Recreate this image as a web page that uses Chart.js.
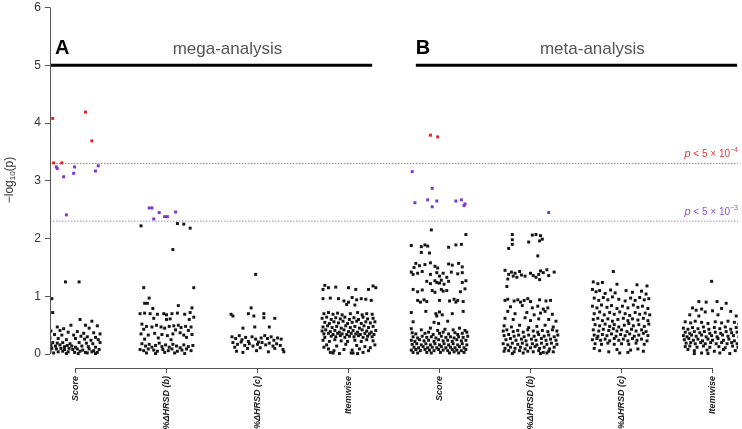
<!DOCTYPE html>
<html>
<head>
<meta charset="utf-8">
<script src="https://cdn.jsdelivr.net/npm/chart.js@4.4.1/dist/chart.umd.min.js"></script>
<style>
  body { margin: 0; background: #fff; }
  #wrap { width: 742px; height: 429px; }
</style>
</head>
<body>
<div id="wrap"><canvas id="graph" width="742" height="429"></canvas></div>
<script>
// categories along the x axis (1..8)
var categories = ['Score', '%ΔHRSD (b)', '%ΔHRSD (c)', 'Itemwise', 'Score', '%ΔHRSD (b)', '%ΔHRSD (c)', 'Itemwise'];
var yTicks = [0, 1, 2, 3, 4, 5, 6];
var thresholdRed = 3.301;    // p < 5e-4
var thresholdPurple = 2.301; // p < 5e-3

// points per category: [jitter offset, -log10(p)]
var megaScore = [
  [-0.25,4.08],[0.11,4.19],[0.18,3.69],[-0.24,3.31],[-0.15,3.31],[-0.21,3.24],[-0.2,3.21],[-0.13,3.07],
  [-0.02,3.13],[-0.01,3.24],[0.22,3.17],[0.25,3.26],[-0.1,2.41],
  [-0.11,1.25],[0.04,1.25],[-0.26,0.96],[-0.25,0.72],
  [0.05,0.6],[0.18,0.57],[-0.05,0.5],[0.11,0.5],[0.24,0.49],[-0.2,0.47],[-0.13,0.44],[0.15,0.45],
  [-0.27,0.4],[-0.17,0.41],[-0.08,0.38],[0.02,0.39],[0.09,0.36],[0.2,0.37],[0.27,0.35],
  [-0.23,0.34],[-0.15,0.33],[-0.02,0.33],[0.06,0.31],[0.13,0.3],[0.22,0.29],
  [-0.28,0.28],[-0.19,0.27],[-0.1,0.25],[0.0,0.27],[0.1,0.26],[0.17,0.24],[0.25,0.25],
  [-0.25,0.2],[-0.2,0.19],[-0.14,0.2],[-0.06,0.18],[0.04,0.2],[0.12,0.19],[0.19,0.18],[0.27,0.2],
  [-0.27,0.15],[-0.22,0.14],[-0.17,0.16],[-0.12,0.13],[-0.09,0.15],[-0.04,0.14],[0.0,0.12],[0.07,0.14],[0.14,0.13],[0.22,0.12],
  [-0.26,0.1],[-0.21,0.09],[-0.16,0.1],[-0.12,0.08],[-0.07,0.1],[-0.03,0.08],[0.02,0.09],[0.08,0.07],[0.15,0.09],[0.2,0.06],[0.26,0.08],
  [-0.28,0.05],[-0.19,0.04],[-0.14,0.05],[-0.08,0.04],[-0.01,0.03],[0.05,0.05],[0.11,0.03],[0.18,0.04],[0.24,0.03],
  [-0.24,0.02],[-0.1,0.01],[0.03,0.01],[0.13,0.02],[0.22,0.01]
];
var megaDeltaB = [
  [-0.19,2.53],[-0.16,2.53],[-0.14,2.34],[-0.08,2.45],[-0.02,2.38],[0.01,2.38],[0.1,2.46],
  [-0.28,2.22],[0.12,2.26],[0.19,2.25],[0.26,2.18],[0.07,1.81],[-0.25,1.15],[0.3,1.15],
  [-0.19,0.97],[-0.24,0.88],[-0.21,0.88],[0.13,0.84],[-0.15,0.79],[0.28,0.8],
  [-0.29,0.7],[-0.24,0.71],[-0.18,0.7],[-0.1,0.69],[-0.03,0.7],[0.0,0.68],[0.06,0.7],[0.12,0.71],[0.2,0.69],[0.26,0.72],
  [-0.14,0.62],[0.0,0.6],[0.04,0.61],[0.25,0.6],[0.3,0.64],
  [-0.27,0.52],[-0.22,0.48],[-0.16,0.47],[-0.11,0.5],[-0.06,0.47],[-0.02,0.45],[0.03,0.48],[0.08,0.49],[0.13,0.5],[0.16,0.46],[0.21,0.48],[0.27,0.47],
  [-0.25,0.43],[0.1,0.42],[0.24,0.41],
  [-0.28,0.35],[-0.2,0.33],[-0.13,0.36],[-0.05,0.34],[0.01,0.32],[0.07,0.35],[0.15,0.37],[0.19,0.33],[0.28,0.34],
  [-0.09,0.28],[0.22,0.29],[-0.24,0.26],[0.05,0.25],
  [-0.27,0.18],[-0.23,0.14],[-0.19,0.17],[-0.16,0.12],[-0.12,0.15],[-0.08,0.19],[-0.05,0.13],[-0.01,0.16],[0.03,0.12],[0.07,0.17],[0.11,0.14],[0.15,0.11],[0.19,0.16],[0.24,0.13],[0.29,0.15],
  [-0.29,0.08],[-0.25,0.06],[-0.2,0.09],[-0.14,0.07],[-0.1,0.05],[-0.04,0.08],[0.02,0.06],[0.06,0.09],[0.12,0.05],[0.17,0.07],[0.22,0.09],[0.27,0.06],
  [-0.22,0.02],[-0.12,0.01],[-0.02,0.03],[0.09,0.02],[0.2,0.01]
];
var megaDeltaC = [
  [-0.02,1.38],
  [-0.07,0.8],[-0.29,0.69],[-0.27,0.66],[-0.1,0.7],[-0.04,0.66],[0.07,0.7],[0.07,0.63],[0.19,0.62],[-0.16,0.45],[-0.03,0.47],[0.13,0.47],
  [-0.28,0.3],[-0.24,0.27],[-0.2,0.32],[-0.17,0.25],[-0.13,0.29],[-0.1,0.22],[-0.06,0.3],[-0.02,0.26],[0.01,0.21],[0.04,0.28],[0.08,0.32],[0.11,0.27],[0.15,0.3],[0.18,0.24],[0.22,0.28],[0.26,0.26],
  [-0.27,0.2],[-0.22,0.17],[-0.18,0.21],[-0.14,0.15],[-0.09,0.18],[-0.05,0.14],[0.0,0.17],[0.05,0.2],[0.09,0.16],[0.13,0.19],[0.17,0.14],[0.21,0.18],[0.25,0.15],
  [-0.25,0.12],[-0.11,0.1],[0.03,0.11],[0.19,0.1],[0.28,0.08],[0.29,0.04],
  [-0.23,0.05],[-0.16,0.03],[-0.01,0.06],[0.12,0.04]
];
var megaItemwise = [
  [-0.26,1.19],[-0.22,1.15],[-0.14,1.16],[0.0,1.15],[0.08,1.12],[0.22,1.12],[0.27,1.18],[0.3,1.15],[-0.28,1.12],
  [-0.28,0.96],[-0.2,0.97],[-0.11,0.96],[0.04,0.98],[0.09,0.94],[0.14,0.96],[0.19,0.95],[0.25,0.93],
  [-0.05,0.92],[0.0,0.9],[-0.02,0.86],[0.07,0.85],
  [-0.27,0.7],[-0.22,0.72],[-0.17,0.69],[-0.12,0.71],[-0.07,0.68],[0.02,0.7],[0.1,0.72],[0.15,0.68],[0.2,0.7],[0.26,0.69],
  [-0.29,0.62],[-0.24,0.64],[-0.19,0.6],[-0.14,0.63],[-0.09,0.61],[-0.04,0.64],[0.01,0.6],[0.06,0.63],[0.11,0.6],[0.16,0.64],[0.21,0.61],[0.27,0.62],
  [-0.26,0.55],[-0.21,0.53],[-0.16,0.56],[-0.11,0.54],[-0.06,0.57],[-0.01,0.53],[0.04,0.55],[0.09,0.57],[0.14,0.53],[0.19,0.56],[0.24,0.54],[0.29,0.56],
  [-0.28,0.47],[-0.23,0.49],[-0.18,0.46],[-0.13,0.48],[-0.08,0.45],[-0.03,0.49],[0.02,0.46],[0.07,0.48],[0.12,0.45],[0.17,0.49],[0.22,0.46],[0.27,0.48],
  [-0.29,0.4],[-0.25,0.42],[-0.2,0.39],[-0.15,0.41],[-0.1,0.38],[-0.05,0.42],[0.0,0.39],[0.05,0.41],[0.1,0.38],[0.15,0.42],[0.2,0.4],[0.25,0.38],[0.3,0.41],
  [-0.27,0.35],[-0.22,0.36],[-0.17,0.34],[-0.12,0.36],[-0.07,0.35],[-0.02,0.34],[0.03,0.36],[0.08,0.35],[0.13,0.34],[0.18,0.36],[0.23,0.35],[0.28,0.34],
  [-0.26,0.29],[-0.19,0.31],[-0.14,0.3],[-0.09,0.32],[-0.04,0.29],[0.01,0.31],[0.06,0.3],[0.11,0.32],[0.16,0.29],[0.21,0.31],[0.26,0.3],
  [-0.28,0.24],[-0.21,0.22],[-0.15,0.25],[-0.08,0.23],[-0.01,0.22],[0.07,0.24],[0.14,0.22],[0.2,0.25],[0.27,0.23],
  [-0.24,0.16],[-0.13,0.14],[-0.03,0.17],[0.09,0.15],[0.18,0.13],[0.29,0.16],[-0.27,0.12],[0.24,0.11],
  [-0.22,0.09],[-0.16,0.06],[-0.05,0.08],[0.04,0.07],[0.12,0.09],[0.22,0.06],
  [-0.2,0.03],[-0.17,0.02],[-0.1,0.01],[0.03,0.02],[0.05,0.02],[0.1,0.01],[0.16,0.03]
];
var metaScore = [
  [-0.1,3.79],[-0.02,3.76],[-0.3,3.16],[-0.08,2.87],[-0.27,2.62],[-0.13,2.67],[-0.03,2.65],[-0.08,2.55],
  [0.18,2.65],[0.24,2.67],[0.28,2.6],[0.27,2.57],
  [-0.09,2.15],[0.29,2.07],
  [-0.31,1.88],[-0.2,1.86],[-0.16,1.89],[-0.13,1.87],[0.1,1.85],[0.18,1.89],[0.24,1.9],[-0.2,1.76],[-0.11,1.75],
  [-0.26,1.57],[-0.22,1.53],[-0.16,1.55],[-0.1,1.58],[-0.05,1.52],[0.1,1.56],[0.14,1.54],[0.21,1.57],[0.25,1.51],[-0.28,1.5],[-0.02,1.49],
  [-0.31,1.42],[-0.29,1.38],[-0.24,1.4],[-0.19,1.43],[-0.1,1.38],[-0.03,1.41],[0.04,1.4],[0.13,1.42],[0.2,1.39],[0.25,1.41],[0.0,1.35],[0.08,1.33],
  [-0.14,1.26],[-0.1,1.22],[-0.05,1.27],[-0.03,1.24],[0.0,1.23],[0.02,1.28],[0.05,1.21],[0.1,1.26],[0.25,1.24],[0.29,1.27],
  [-0.29,1.12],[-0.24,1.08],[-0.19,1.11],[-0.08,1.1],[-0.05,1.07],[0.02,1.12],[0.04,1.09],[0.08,1.1],[0.23,1.08],[0.28,1.13],
  [-0.24,0.93],[-0.21,0.9],[-0.17,0.94],[-0.14,0.91],[0.0,0.93],[0.11,0.92],[0.16,0.95],[0.18,0.9],[0.2,0.93],[0.26,0.91],
  [-0.31,0.72],[-0.15,0.74],[-0.04,0.7],[-0.03,0.66],[0.0,0.73],[0.03,0.68],[0.14,0.7],[0.26,0.74],
  [-0.29,0.56],[-0.06,0.55],[-0.01,0.53],[0.09,0.57],
  [-0.31,0.44],[-0.2,0.42],[-0.1,0.45],[-0.02,0.41],[0.06,0.43],[0.15,0.42],[0.22,0.45],[0.28,0.41],
  [-0.3,0.37],[-0.26,0.35],[-0.16,0.36],[-0.12,0.38],[-0.07,0.34],[0.0,0.36],[0.04,0.38],[0.1,0.35],[0.17,0.37],[0.2,0.34],[0.25,0.36],[0.3,0.38],
  [-0.29,0.3],[-0.24,0.28],[-0.19,0.31],[-0.14,0.29],[-0.09,0.3],[-0.04,0.28],[0.02,0.31],[0.07,0.29],[0.12,0.3],[0.16,0.28],[0.21,0.3],[0.26,0.29],[0.31,0.31],
  [-0.31,0.24],[-0.27,0.22],[-0.22,0.25],[-0.17,0.23],[-0.12,0.24],[-0.06,0.22],[-0.01,0.25],[0.04,0.23],[0.09,0.24],[0.14,0.22],[0.19,0.25],[0.24,0.23],[0.29,0.24],
  [-0.3,0.17],[-0.25,0.18],[-0.2,0.16],[-0.15,0.18],[-0.1,0.16],[-0.05,0.18],[0.0,0.16],[0.05,0.18],[0.1,0.16],[0.15,0.18],[0.2,0.16],[0.25,0.18],[0.3,0.16],
  [-0.28,0.12],[-0.23,0.11],[-0.18,0.13],[-0.13,0.11],[-0.08,0.12],[-0.03,0.11],[0.02,0.13],[0.07,0.11],[0.12,0.12],[0.17,0.11],[0.22,0.13],[0.27,0.11],
  [-0.31,0.07],[-0.26,0.08],[-0.21,0.06],[-0.16,0.08],[-0.11,0.07],[-0.06,0.06],[-0.01,0.08],[0.04,0.07],[0.09,0.06],[0.14,0.08],[0.19,0.07],[0.24,0.06],[0.29,0.08],
  [-0.29,0.03],[-0.24,0.02],[-0.14,0.03],[-0.09,0.02],[0.01,0.03],[0.11,0.02],[0.16,0.04],[0.21,0.02],[0.27,0.03]
];
var metaDeltaB = [
  [0.2,2.45],
  [-0.2,2.07],[0.02,2.06],[0.06,2.07],[0.11,2.05],[-0.2,1.98],[-0.2,1.9],[-0.24,1.83],[-0.02,1.94],[0.1,1.96],[0.13,1.99],[0.08,1.7],
  [-0.28,1.45],[-0.24,1.38],[-0.21,1.42],[-0.19,1.35],[-0.17,1.4],[-0.15,1.33],[-0.12,1.43],[-0.1,1.37],[-0.06,1.35],[0.0,1.4],
  [0.03,1.36],[0.06,1.33],[0.09,1.38],[0.11,1.44],[0.14,1.41],[0.18,1.46],[0.2,1.36],[0.26,1.42],[-0.25,1.3],[0.1,1.29],
  [-0.26,1.17],
  [-0.28,0.93],[-0.25,0.95],[-0.18,0.92],[-0.14,0.94],[-0.11,0.9],[-0.07,0.93],[-0.03,0.96],[0.0,0.91],[0.1,0.94],[0.17,0.92],[0.22,0.93],
  [-0.22,0.82],[-0.09,0.84],[0.02,0.8],[0.08,0.83],[0.14,0.78],[0.19,0.8],[-0.25,0.74],[-0.17,0.7],[-0.04,0.72],[0.04,0.68],[0.11,0.71],[0.16,0.74],[0.24,0.69],
  [-0.28,0.62],[-0.19,0.6],[-0.06,0.63],[0.0,0.58],[0.09,0.61],[0.2,0.6],[0.28,0.57],
  [-0.29,0.49],[-0.21,0.47],[-0.12,0.5],[-0.02,0.46],[0.07,0.48],[0.16,0.5],[0.25,0.47],
  [-0.3,0.4],[-0.26,0.42],[-0.19,0.39],[-0.14,0.41],[-0.08,0.38],[-0.03,0.42],[0.03,0.4],[0.08,0.38],[0.13,0.41],[0.19,0.39],[0.24,0.42],[0.29,0.4],
  [-0.29,0.32],[-0.24,0.34],[-0.18,0.31],[-0.13,0.33],[-0.07,0.3],[-0.02,0.33],[0.04,0.31],[0.09,0.34],[0.15,0.31],[0.2,0.33],[0.26,0.3],[0.3,0.33],
  [-0.27,0.25],[-0.22,0.27],[-0.16,0.24],[-0.1,0.26],[-0.05,0.23],[0.01,0.26],[0.06,0.24],[0.12,0.27],[0.17,0.24],[0.22,0.26],[0.28,0.24],
  [-0.3,0.18],[-0.25,0.16],[-0.2,0.19],[-0.14,0.17],[-0.09,0.19],[-0.04,0.16],[0.02,0.18],[0.07,0.16],[0.12,0.19],[0.18,0.17],[0.23,0.19],[0.29,0.17],
  [-0.28,0.1],[-0.22,0.12],[-0.17,0.1],[-0.11,0.12],[-0.06,0.09],[0.0,0.11],[0.05,0.13],[0.1,0.1],[0.15,0.12],[0.21,0.09],[0.26,0.12],
  [-0.29,0.05],[-0.24,0.06],[-0.18,0.04],[-0.12,0.06],[-0.03,0.05],[0.03,0.04],[0.09,0.06],[0.14,0.03],[0.2,0.05],[0.25,0.04],
  [-0.2,0.01],[-0.08,0.02],[0.11,0.01],[0.18,0.02]
];
var metaDeltaC = [
  [-0.09,1.43],
  [-0.31,1.25],[-0.26,1.22],[-0.21,1.24],[-0.05,1.21],[0.17,1.2],[0.28,1.18],
  [-0.32,1.12],[-0.28,1.08],[-0.24,1.1],[-0.18,1.05],[-0.12,1.11],[-0.07,1.06],[0.05,1.1],[0.12,1.07],[0.22,1.09],[0.27,1.04],
  [-0.3,0.97],[-0.25,0.93],[-0.2,0.98],[-0.15,0.94],[-0.1,0.99],[-0.03,0.95],[0.04,0.92],[0.1,0.97],[0.15,0.93],[0.2,0.98],[0.25,0.94],[0.3,0.96],
  [-0.32,0.83],[-0.27,0.8],[-0.22,0.85],[-0.16,0.81],[-0.11,0.84],[-0.05,0.79],[0.01,0.83],[0.07,0.8],[0.13,0.85],[0.18,0.81],[0.23,0.83],[0.29,0.79],
  [-0.3,0.7],[-0.24,0.73],[-0.19,0.68],[-0.13,0.72],[-0.08,0.69],[-0.02,0.73],[0.04,0.7],[0.09,0.67],[0.15,0.72],[0.2,0.69],[0.26,0.71],[0.31,0.68],
  [-0.31,0.6],[-0.26,0.62],[-0.21,0.58],[-0.15,0.61],[-0.1,0.57],[-0.04,0.6],[0.02,0.62],[0.07,0.58],[0.12,0.61],[0.18,0.59],[0.24,0.62],[0.29,0.58],
  [-0.29,0.51],[-0.24,0.49],[-0.18,0.52],[-0.13,0.48],[-0.08,0.51],[-0.03,0.47],[0.03,0.5],[0.08,0.53],[0.13,0.49],[0.19,0.51],[0.25,0.48],[0.3,0.52],
  [-0.31,0.42],[-0.25,0.4],[-0.2,0.43],[-0.14,0.41],[-0.09,0.44],[-0.05,0.4],[0.0,0.42],[0.06,0.39],[0.11,0.43],[0.16,0.4],[0.22,0.42],[0.27,0.39],
  [-0.3,0.33],[-0.26,0.31],[-0.21,0.34],[-0.16,0.32],[-0.11,0.35],[-0.06,0.31],[-0.01,0.34],[0.04,0.32],[0.09,0.35],[0.14,0.31],[0.19,0.33],[0.24,0.36],[0.29,0.32],
  [-0.32,0.25],[-0.27,0.27],[-0.23,0.24],[-0.18,0.26],[-0.13,0.23],[-0.08,0.27],[-0.03,0.24],[0.02,0.26],[0.07,0.23],[0.12,0.27],[0.17,0.24],[0.22,0.26],[0.28,0.23],
  [-0.29,0.18],[-0.22,0.17],[-0.15,0.19],[-0.08,0.17],[0.0,0.18],[0.08,0.17],[0.16,0.19],[0.25,0.17],
  [-0.3,0.1],[-0.24,0.06],[-0.05,0.08],[0.1,0.07],[0.18,0.09],[0.24,0.05],[-0.14,0.04],[-0.02,0.02],[0.07,0.03]
];
var metaItemwise = [
  [-0.01,1.26],
  [-0.15,0.91],[-0.07,0.9],[0.05,0.91],[0.15,0.88],
  [-0.22,0.8],[-0.18,0.76],[-0.12,0.78],[-0.08,0.73],[0.0,0.75],[0.1,0.79],[0.2,0.74],[-0.25,0.68],[-0.15,0.66],[0.06,0.68],[0.26,0.66],
  [-0.3,0.56],[-0.24,0.54],[-0.19,0.57],[-0.12,0.55],[-0.05,0.53],[0.03,0.56],[0.1,0.54],[0.17,0.57],[0.24,0.55],[0.29,0.52],
  [-0.32,0.45],[-0.27,0.43],[-0.22,0.46],[-0.16,0.44],[-0.1,0.47],[-0.04,0.43],[0.02,0.46],[0.08,0.44],[0.14,0.47],[0.2,0.43],[0.26,0.46],[0.3,0.44],
  [-0.3,0.38],[-0.25,0.36],[-0.2,0.39],[-0.14,0.37],[-0.09,0.39],[-0.03,0.36],[0.03,0.38],[0.09,0.36],[0.15,0.39],[0.21,0.37],[0.27,0.38],
  [-0.32,0.32],[-0.28,0.3],[-0.23,0.33],[-0.18,0.31],[-0.12,0.33],[-0.07,0.3],[-0.01,0.32],[0.05,0.3],[0.11,0.33],[0.17,0.31],[0.23,0.32],[0.29,0.3],
  [-0.31,0.25],[-0.26,0.27],[-0.21,0.24],[-0.16,0.26],[-0.11,0.23],[-0.05,0.26],[0.0,0.24],[0.06,0.27],[0.12,0.24],[0.18,0.26],[0.24,0.23],[0.3,0.26],
  [-0.29,0.19],[-0.24,0.2],[-0.19,0.18],[-0.13,0.2],[-0.08,0.18],[-0.02,0.2],[0.04,0.18],[0.1,0.2],[0.16,0.18],[0.21,0.2],[0.27,0.18],
  [-0.3,0.13],[-0.25,0.14],[-0.17,0.12],[-0.1,0.14],[-0.03,0.12],[0.07,0.13],[0.14,0.11],[0.22,0.14],[0.28,0.12],
  [-0.27,0.08],[-0.2,0.06],[-0.06,0.07],[0.02,0.05],[0.12,0.08],[0.25,0.06],
  [-0.2,0.01],[-0.12,0.02],[-0.05,0.01],[0.08,0.02],[0.19,0.01]
];
var groups = [megaScore, megaDeltaB, megaDeltaC, megaItemwise, metaScore, metaDeltaB, metaDeltaC, metaItemwise];

// panel header lines (x range in category units) at -log10(p) = 5
var panelLineY = 5;
var megaSpan = [0.72, 4.26];
var metaSpan = [4.74, 8.27];

function pointColor(ctx) {
    var v = ctx.raw ? ctx.raw.y : 0;
    if (v >= thresholdRed) return '#e4211c';
    if (v >= thresholdPurple) return '#7b35d4';
    return '#151515';
}

var datasets = [];
groups.forEach(function (g, i) {
    datasets.push({
        data: g.map(function (p) { return { x: i + 1 + p[0], y: p[1] }; }),
        pointStyle: 'rect',
        pointRadius: 2.1,
        pointBorderWidth: 0,
        backgroundColor: pointColor,
        order: 0
    });
});

function hline(y, x0, x1, color, width, dash) {
    return {
        data: [{ x: x0, y: y }, { x: x1, y: y }],
        showLine: true,
        pointRadius: 0,
        borderColor: color,
        borderWidth: width,
        borderDash: dash,
        order: 1
    };
}
datasets.push(hline(thresholdRed, 0.72, 8.28, '#d36a6a', 1, [1.5, 1.5]));
datasets.push(hline(thresholdPurple, 0.72, 8.28, '#9a8ad6', 1, [1.5, 1.5]));
datasets.push(hline(panelLineY, megaSpan[0], megaSpan[1], '#000', 3, []));
datasets.push(hline(panelLineY, metaSpan[0], metaSpan[1], '#000', 3, []));

var decor = {
    id: 'decor',
    afterDraw: function (chart) {
        var ctx = chart.ctx;
        var xs = chart.scales.x, ys = chart.scales.y;
        var area = chart.chartArea;
        ctx.save();
        // axis lines (R style, only over tick range)
        ctx.strokeStyle = '#555';
        ctx.lineWidth = 1;
        ctx.beginPath();
        ctx.moveTo(area.left + 0.5, ys.getPixelForValue(0));
        ctx.lineTo(area.left + 0.5, ys.getPixelForValue(6));
        ctx.moveTo(xs.getPixelForValue(1), area.bottom + 0.5);
        ctx.lineTo(xs.getPixelForValue(8), area.bottom + 0.5);
        ctx.stroke();

        // y axis title: -log10(p)
        ctx.translate(10, 180);
        ctx.rotate(-Math.PI / 2);
        ctx.fillStyle = '#333';
        ctx.textBaseline = 'middle';
        var t1 = '\u2212log', t3 = '(p)';
        ctx.font = '8px "Liberation Sans", Arial, sans-serif';
        var w2 = ctx.measureText('10').width;
        ctx.font = '12px "Liberation Sans", Arial, sans-serif';
        var w1 = ctx.measureText(t1).width, w3 = ctx.measureText(t3).width;
        var sx = -(w1 + w2 + w3) / 2;
        ctx.textAlign = 'left';
        ctx.fillText(t1, sx, 0);
        ctx.font = '8px "Liberation Sans", Arial, sans-serif';
        ctx.fillText('10', sx + w1, 3);
        ctx.font = '12px "Liberation Sans", Arial, sans-serif';
        ctx.fillText(t3, sx + w1 + w2, 0);
        ctx.restore();

        ctx.save();
        var headY = ys.getPixelForValue(panelLineY) - 11;
        ctx.textBaseline = 'alphabetic';
        ctx.fillStyle = '#000';
        ctx.font = 'bold 20px "Liberation Sans", Arial, sans-serif';
        ctx.textAlign = 'left';
        ctx.fillText('A', area.left + 5, headY);
        ctx.fillText('B', xs.getPixelForValue(metaSpan[0]), headY);
        ctx.fillStyle = '#555';
        ctx.font = '17px "Liberation Sans", Arial, sans-serif';
        ctx.textAlign = 'center';
        ctx.fillText('mega-analysis', xs.getPixelForValue(2.67), headY);
        ctx.fillText('meta-analysis', xs.getPixelForValue(6.68), headY);

        // threshold labels
        function pLabel(text, sup, color, yv) {
            var y = ys.getPixelForValue(yv) - 6;
            var right = area.right;
            ctx.fillStyle = color;
            ctx.textAlign = 'left';
            ctx.font = '7px "Liberation Sans", Arial, sans-serif';
            var ws = ctx.measureText(sup).width;
            ctx.font = '10px "Liberation Sans", Arial, sans-serif';
            var wt = ctx.measureText(text).width;
            ctx.font = 'italic 11px "Liberation Sans", Arial, sans-serif';
            var wp = ctx.measureText('p').width;
            var x = right - ws - wt - wp;
            ctx.fillText('p', x, y);
            ctx.font = '10px "Liberation Sans", Arial, sans-serif';
            ctx.fillText(text, x + wp, y);
            ctx.font = '7px "Liberation Sans", Arial, sans-serif';
            ctx.fillText(sup, x + wp + wt, y - 5);
        }
        pLabel(' < 5 \u00d7 10', '\u22124', '#d83a3a', thresholdRed);
        pLabel(' < 5 \u00d7 10', '\u22123', '#8a55d6', thresholdPurple);
        ctx.restore();
    }
};

var chart = new Chart(document.getElementById('graph').getContext('2d'), {
    type: 'scatter',
    data: { datasets: datasets },
    options: {
        responsive: false,
        animation: false,
        events: [],
        layout: { padding: { left: 0, right: 2, top: 0, bottom: 0 } },
        plugins: { legend: { display: false }, tooltip: { enabled: false } },
        scales: {
            x: {
                type: 'linear',
                min: 0.72,
                max: 8.28,
                afterBuildTicks: function (scale) {
                    scale.ticks = categories.map(function (c, i) { return { value: i + 1 }; });
                },
                afterFit: function (scale) {
                    scale.height = 61;
                    scale.paddingLeft = 0;
                    scale.paddingRight = 0;
                },
                border: { display: false },
                grid: { drawOnChartArea: false, tickLength: 5, color: '#555' },
                ticks: {
                    autoSkip: false,
                    minRotation: 90,
                    maxRotation: 90,
                    padding: 3,
                    color: '#222',
                    font: { family: '"Liberation Sans", Arial, sans-serif', size: 9, style: 'italic', weight: 'bold' },
                    callback: function (v) { return categories[Math.round(v) - 1]; }
                }
            },
            y: {
                min: -0.24,
                max: 6.06,
                afterBuildTicks: function (scale) {
                    scale.ticks = yTicks.map(function (v) { return { value: v }; });
                },
                afterFit: function (scale) {
                    scale.width = 50;
                    scale.paddingTop = 0;
                    scale.paddingBottom = 0;
                },
                border: { display: false },
                grid: { drawOnChartArea: false, tickLength: 5, color: '#555' },
                ticks: {
                    padding: 4,
                    color: '#333',
                    font: { family: '"Liberation Sans", Arial, sans-serif', size: 12 }
                }
            }
        }
    },
    plugins: [decor]
});
</script>
</body>
</html>
